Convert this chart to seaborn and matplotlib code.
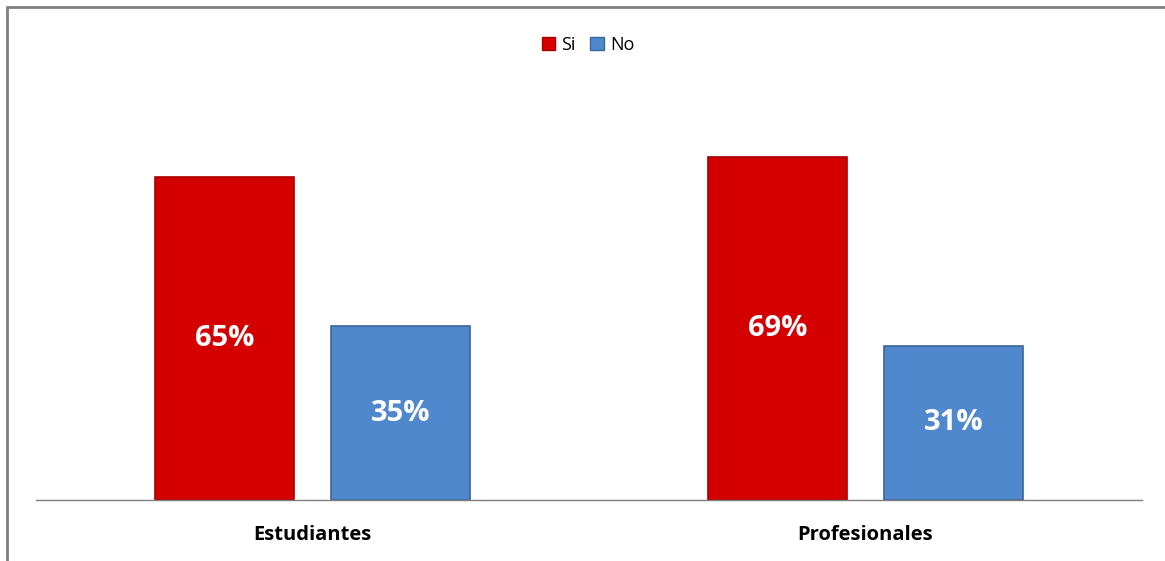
import matplotlib
matplotlib.use("Agg")
import matplotlib.pyplot as plt
from matplotlib.patches import Patch
from matplotlib.lines import Line2D
import seaborn as sns
import pandas as pd

categories = ["Estudiantes", "Profesionales"]
series = ["Si", "No"]
si_values = [65, 69]
no_values = [35, 31]

df = pd.DataFrame({
    "grupo": categories * 2,
    "respuesta": [series[0]] * 2 + [series[1]] * 2,
    "valor": si_values + no_values,
})

sns.set_theme(style="white")
plt.rcParams["font.family"] = ["Open Sans", "DejaVu Sans"]
plt.rcParams["text.color"] = "black"
plt.rcParams["xtick.color"] = "black"

colors = {"Si": "#D40000", "No": "#4F88CD"}
edges = {"Si": "#A80000", "No": "#3A6698"}

fig = plt.figure(figsize=(11.65, 5.61), dpi=100)
ax = fig.add_axes([36 / 1165, 61 / 561, 1106 / 1165, 397.6 / 561])

sns.barplot(data=df, x="grupo", y="valor", hue="respuesta", order=categories,
            hue_order=series, palette=colors, saturation=1, width=0.636,
            gap=0.21, legend=False, ax=ax)

for cont, s in zip(ax.containers, series):
    for bar in cont:
        bar.set_edgecolor(edges[s])
        bar.set_linewidth(1.2)
    ax.bar_label(cont, labels=[f"{int(round(b.get_height()))}%" for b in cont],
                 label_type="center", color="white", fontsize=21,
                 fontweight="bold")

ax.set_xlim(-0.5, 1.5)
ax.set_ylim(0, 80)
ax.set_xlabel("")
ax.set_ylabel("")
ax.set_yticks([])
ax.tick_params(axis="x", length=0, pad=18, colors="black")
for lbl in ax.get_xticklabels():
    lbl.set_fontweight("bold")
    lbl.set_fontsize(14.5)
    lbl.set_color("black")
for side in ["top", "right", "left"]:
    ax.spines[side].set_visible(False)
ax.spines["bottom"].set_color("#7f7f7f")
ax.spines["bottom"].set_linewidth(1.0)

handles = [Patch(facecolor=colors[s], edgecolor=edges[s]) for s in series]
leg = fig.legend(handles, series, loc="center",
                 bbox_to_anchor=(588 / 1165, 1 - 45 / 561),
                 ncol=2, frameon=False, fontsize=13, handlelength=0.75,
                 handleheight=0.75, handletextpad=0.35, columnspacing=0.8)
for t in leg.get_texts():
    t.set_color("black")

# outer chart frame (left and top edges)
fig.add_artist(Line2D([7 / 1165, 7 / 1165], [0, 1 - 7 / 561],
                      transform=fig.transFigure, color="#808080", lw=2))
fig.add_artist(Line2D([7 / 1165, 1], [1 - 7 / 561, 1 - 7 / 561],
                      transform=fig.transFigure, color="#808080", lw=2))

fig.savefig("out.png", dpi=100)
